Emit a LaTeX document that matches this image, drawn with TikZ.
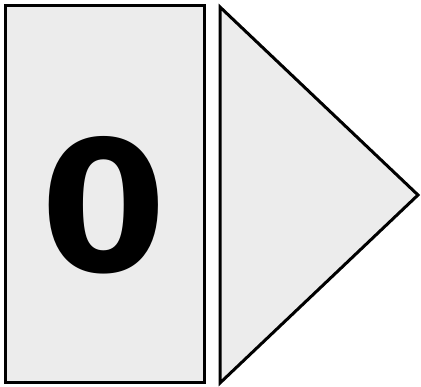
\documentclass[tikz,border=0pt]{standalone}
\usepackage{fontspec}
\usepackage{tikz}
\usetikzlibrary{positioning}
\newfontfamily\digitfont{DejaVu Sans}
\definecolor{cellgray}{HTML}{ECECEC}

\begin{document}
\begin{tikzpicture}[x=1pt,y=-1pt,
	outline/.style={draw=black,line width=3pt,fill=cellgray,line join=miter},
	bigdigit/.style={font=\digitfont\bfseries\fontsize{182}{182}\selectfont,inner sep=0pt}]
		
		% Page size
		\useasboundingbox (0,0) rectangle (421,387);
		
		% The box with the digit
		\node[outline,minimum width=198.5pt,minimum height=377.5pt,inner sep=0pt] (box) at (104.75,194.25) {};
		\node[bigdigit,anchor=base] (digit) at (103.5,272) {0};
		
		% The arrow head
		\draw[outline] (220,7) -- (220,383) -- (418,195) -- cycle;
		
	\end{tikzpicture}
\end{document}
